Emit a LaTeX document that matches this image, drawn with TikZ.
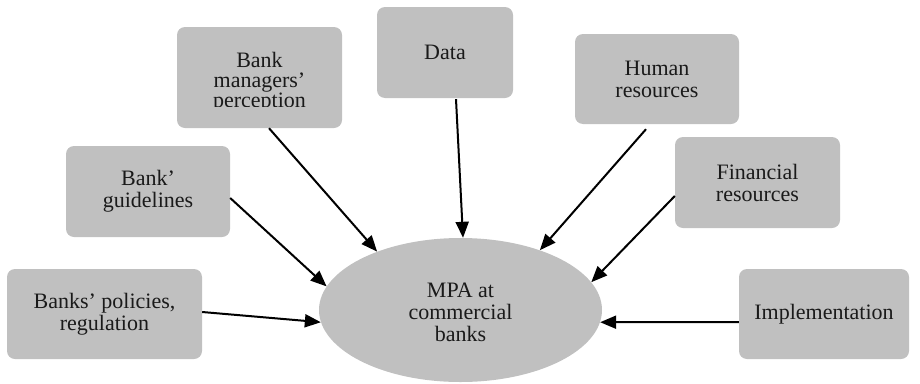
\documentclass[tikz,border=0pt]{standalone}
\usepackage{fontspec}
\setmainfont{Liberation Serif}
\usetikzlibrary{arrows.meta,shapes.geometric,calc}
\definecolor{boxgray}{HTML}{C0C0C0}
\definecolor{ink}{HTML}{1A1A1A}

\begin{document}
\begin{tikzpicture}[x=1pt,y=-1pt,
  lbl/.style={text=ink,font=\fontsize{22}{22}\selectfont,align=center},
  factor/.style={lbl,fill=boxgray,rounded corners=8pt,inner sep=0pt},
  hub/.style={ellipse,fill=boxgray,inner sep=0pt,minimum width=283pt,minimum height=144pt},
  link/.style={draw=black,line width=2pt,-{Triangle[length=16pt,width=13pt]}}]
\useasboundingbox (0,0) rectangle (920,383);

% central ellipse and its label
\node[hub] (mpa) at (460.5,310) {};
\node[lbl] (mpatext) at (460.5,312) {MPA at\\commercial\\banks};

% factor boxes
\node[factor,minimum width=195pt,minimum height=90pt] (pol) at (104.5,314) {Banks’ policies,\\regulation};
\node[factor,minimum width=164pt,minimum height=91pt] (guide) at (148,191.5) {Bank’\\guidelines};
\node[factor,minimum width=165pt,minimum height=101pt] (mgr) at (259.5,77.5) {};
\begin{scope}
  \clip ($(mgr.north west)$) rectangle ($(mgr.east)+(0,28.5)$);
  \node[lbl,font=\fontsize{22}{20}\selectfont] (mgrtext) at (259.5,82.6) {Bank\\managers’\\perception};
\end{scope}
\node[factor,minimum width=136pt,minimum height=91pt] (data) at (445,52.5) {Data};
\node[factor,minimum width=164pt,minimum height=90pt] (hum) at (657,79) {Human\\resources};
\node[factor,minimum width=165pt,minimum height=91pt] (fin) at (757.5,182.5) {Financial\\resources};
\node[factor,minimum width=170pt,minimum height=90pt] (impl) at (824,314) {Implementation};

% connectors into the ellipse
\draw[link] ($(pol.east)+(0,-2)$) -- (mpa.185);
\draw[link] ($(guide.east)+(0,6.5)$) -- (mpa.170);
\draw[link] ($(mgr.south)+(9.5,0)$) -- (mpa.145);
\draw[link] ($(data.south)+(11,1)$) -- (mpa.88);
\draw[link] ($(hum.south)+(-11,5)$) -- (mpa.37);
\draw[link] ($(fin.west)+(0,13.5)$) -- (mpa.12);
\draw[link] ($(impl.west)+(0,8)$) -- (mpa.355);
\end{tikzpicture}
\end{document}
